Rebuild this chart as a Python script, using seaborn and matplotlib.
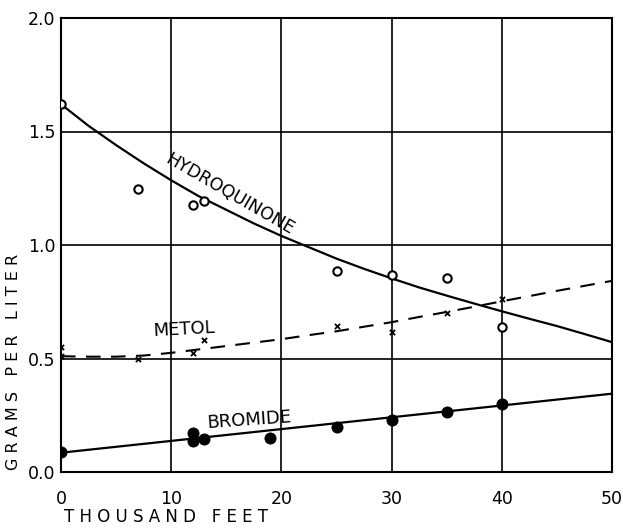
import matplotlib
matplotlib.use("Agg")
import matplotlib.pyplot as plt
import seaborn as sns
import pandas as pd

# measured points
hq_x = [0, 7, 12, 13, 25, 30, 35, 40]
hq_y = [1.62, 1.245, 1.175, 1.195, 0.885, 0.87, 0.853, 0.637]
metol_x = [0, 0, 7, 12, 13, 25, 30, 35, 40]
metol_y = [0.55, 0.51, 0.50, 0.525, 0.58, 0.645, 0.615, 0.70, 0.76]
br_x = [0, 12, 12, 13, 19, 25, 30, 35, 40]
br_y = [0.088, 0.17, 0.137, 0.146, 0.15, 0.198, 0.23, 0.265, 0.30]

# fitted curves
hq_curve_x = [0, 2.5, 5, 7.5, 10, 12.5, 15, 17.5, 20, 22.5, 25, 27.5, 30, 32.5, 35, 37.5, 40, 42.5, 45, 47.5, 50]
hq_curve_y = [1.62, 1.525, 1.44, 1.36, 1.285, 1.215, 1.155, 1.095, 1.04, 0.99, 0.94, 0.895, 0.853, 0.813, 0.777, 0.742, 0.708, 0.675, 0.643, 0.608, 0.572]
metol_curve_x = [0, 2.5, 5, 7.5, 10, 12.5, 15, 17.5, 20, 22.5, 25, 27.5, 30, 32.5, 35, 37.5, 40, 42.5, 45, 47.5, 50]
metol_curve_y = [0.51, 0.508, 0.508, 0.513, 0.525, 0.54, 0.555, 0.57, 0.585, 0.603, 0.62, 0.64, 0.66, 0.683, 0.705, 0.728, 0.752, 0.775, 0.798, 0.82, 0.842]
br_line_x = [0, 50]
br_line_y = [0.085, 0.345]

xticks = [0, 10, 20, 30, 40, 50]
yticks = [0.0, 0.5, 1.0, 1.5, 2.0]
ytick_labels = ["0.0", "0.5", "1.0", "1.5", "2.0"]

sns.set_theme(style="white")
plt.rcParams['font.family'] = ['DejaVu Sans']

fig = plt.figure(figsize=(6.23, 5.29), dpi=100)
ax = fig.add_axes([61/623, 57/529, 551/623, 454/529])

hq_pts = pd.DataFrame({"x": hq_x, "y": hq_y})
me_pts = pd.DataFrame({"x": metol_x, "y": metol_y})
br_pts = pd.DataFrame({"x": br_x, "y": br_y})
hq_c = pd.DataFrame({"x": hq_curve_x, "y": hq_curve_y})
me_c = pd.DataFrame({"x": metol_curve_x, "y": metol_curve_y})
br_c = pd.DataFrame({"x": br_line_x, "y": br_line_y})

sns.lineplot(data=hq_c, x="x", y="y", ax=ax, color="black", lw=1.6, sort=False)
sns.lineplot(data=me_c, x="x", y="y", ax=ax, color="black", lw=1.5, sort=False)
ax.lines[-1].set_dashes([7, 5])
sns.lineplot(data=br_c, x="x", y="y", ax=ax, color="black", lw=1.6, sort=False)

sns.scatterplot(data=hq_pts, x="x", y="y", ax=ax, marker="o", s=36,
                facecolor="white", edgecolor="black", linewidth=1.5, zorder=5)
sns.scatterplot(data=me_pts, x="x", y="y", ax=ax, marker="x", s=14,
                color="black", linewidth=1.3, zorder=5)
sns.scatterplot(data=br_pts, x="x", y="y", ax=ax, marker="o", s=64,
                color="black", edgecolor="black", zorder=5)

ax.set_xlim(0, 50)
ax.set_ylim(0, 2.0)
ax.set_xticks(xticks)
ax.set_xticklabels([str(v) for v in xticks])
ax.set_yticks(yticks)
ax.set_yticklabels(ytick_labels)
ax.tick_params(length=0, labelsize=12.5, colors="black")
ax.tick_params(axis="x", pad=13)
ax.tick_params(axis="y", pad=4)
ax.grid(True, color="black", lw=1.2)
for sp in ax.spines.values():
    sp.set_color("black")
    sp.set_linewidth(1.5)
ax.set_xlabel("")
ax.set_ylabel("")

fig.text(166/623, 1 - 517/529, "T H O U S A N D   F E E T", ha="center", va="center",
         fontsize=12, color="black")
fig.text(14/623, 1 - 362/529, "G R A M S   P E R   L I T E R", ha="center", va="center",
         rotation=90, fontsize=11.5, color="black")

ax.text(15.3, 1.225, "HYDROQUINONE", rotation=-30, ha="center", va="center",
        fontsize=12.5, color="black", rotation_mode="anchor")
ax.text(11.2, 0.627, "METOL", rotation=3, ha="center", va="center",
        fontsize=13, color="black", rotation_mode="anchor")
ax.text(17.1, 0.228, "BROMIDE", rotation=4, ha="center", va="center",
        fontsize=13, color="black", rotation_mode="anchor")

fig.savefig("out.png", dpi=100, facecolor="white")
